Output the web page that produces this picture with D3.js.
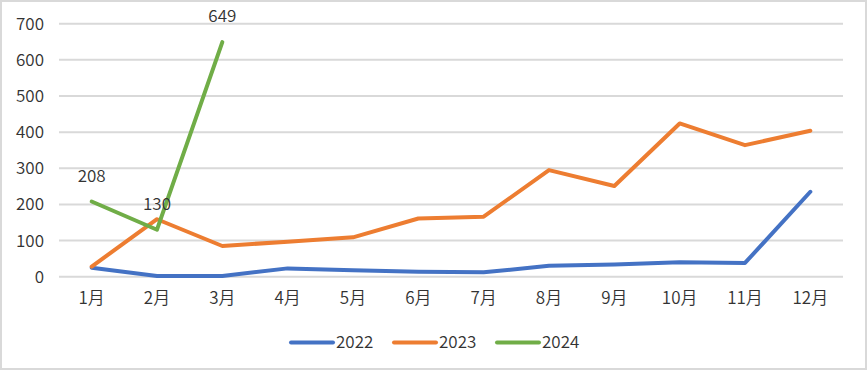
<!DOCTYPE html>
<html>
<head>
<meta charset="utf-8">
<script src="https://cdn.jsdelivr.net/npm/d3@7"></script>
<style>
  body { margin: 0; background: #fff; }
  svg { display: block; }
  text { font-family: "Noto Sans CJK SC", "Noto Sans", sans-serif; fill: #333; font-weight: 350; }
</style>
</head>
<body>
<svg width="867" height="371"></svg>
<script>
var months = ['1月', '2月', '3月', '4月', '5月', '6月', '7月', '8月', '9月', '10月', '11月', '12月'];
var yTicks = [0, 100, 200, 300, 400, 500, 600, 700];

var s2022 = [25, 2, 2, 23, 18, 14, 12, 30, 34, 40, 38, 235];
var s2023 = [28, 159, 85, 97, 109, 161, 166, 295, 251, 424, 364, 404];
var s2024 = [208, 130, 649];

var series = [
  { name: '2022', values: s2022, color: '#4472c4' },
  { name: '2023', values: s2023, color: '#ed7d31' },
  { name: '2024', values: s2024, color: '#70ad47', labels: true }
];

var fontStack = '"Noto Sans CJK SC", "Noto Sans", sans-serif';
var svg = d3.select('svg');

// outer border
svg.append('rect')
  .attr('x', 1).attr('y', 1)
  .attr('width', 865).attr('height', 368)
  .attr('fill', 'none')
  .attr('stroke', '#d9d9d9')
  .attr('stroke-width', 2);

var x = d3.scaleBand()
  .domain(months)
  .range([59, 843]);

var y = d3.scaleLinear()
  .domain([0, 700])
  .range([276.7, 23.7]);

// gridlines
svg.append('g')
  .selectAll('line')
  .data(yTicks)
  .enter()
  .append('line')
  .attr('x1', 59).attr('x2', 843)
  .attr('y1', d => y(d)).attr('y2', d => y(d))
  .attr('stroke', '#d9d9d9')
  .attr('stroke-width', 2);

// y labels
var yAxis = d3.axisLeft(y).tickValues(yTicks).tickSize(0).tickPadding(0);
var gy = svg.append('g').attr('transform', 'translate(44,0)').call(yAxis);
gy.select('.domain').remove();
gy.selectAll('text')
  .attr('font-size', 17)
  .attr('fill', '#333')
  .style('font-family', fontStack)
  .style('font-weight', 350);

// x labels
var xAxis = d3.axisBottom(x).tickSize(0).tickPadding(0);
var gx = svg.append('g').attr('transform', 'translate(0,292)').call(xAxis);
gx.select('.domain').remove();
gx.selectAll('text')
  .attr('font-size', 17)
  .attr('fill', '#333')
  .style('font-family', fontStack)
  .style('font-weight', 350);

var line = d3.line()
  .x((d, i) => x(months[i]) + x.bandwidth() / 2)
  .y(d => y(d));

svg.append('g')
  .selectAll('path')
  .data(series)
  .enter()
  .append('path')
  .attr('d', d => line(d.values))
  .attr('fill', 'none')
  .attr('stroke', d => d.color)
  .attr('stroke-width', 4)
  .attr('stroke-linejoin', 'round')
  .attr('stroke-linecap', 'round');

// data labels for 2024
series.filter(d => d.labels).forEach(function (s) {
  svg.append('g')
    .selectAll('text')
    .data(s.values)
    .enter()
    .append('text')
    .attr('x', (d, i) => x(months[i]) + x.bandwidth() / 2)
    .attr('y', d => y(d) - 20)
    .attr('text-anchor', 'middle')
    .attr('font-size', 17)
    .text(d => d);
});

// legend
var legendX = [291, 394, 497];
var legend = svg.append('g')
  .selectAll('g')
  .data(series)
  .enter()
  .append('g')
  .attr('transform', (d, i) => 'translate(' + legendX[i] + ',342.5)');

legend.append('line')
  .attr('x1', 0).attr('x2', 42)
  .attr('stroke', d => d.color)
  .attr('stroke-width', 4)
  .attr('stroke-linecap', 'round');

legend.append('text')
  .attr('x', 45)
  .attr('dy', '0.35em')
  .attr('font-size', 17)
  .text(d => d.name);
</script>
</body>
</html>
